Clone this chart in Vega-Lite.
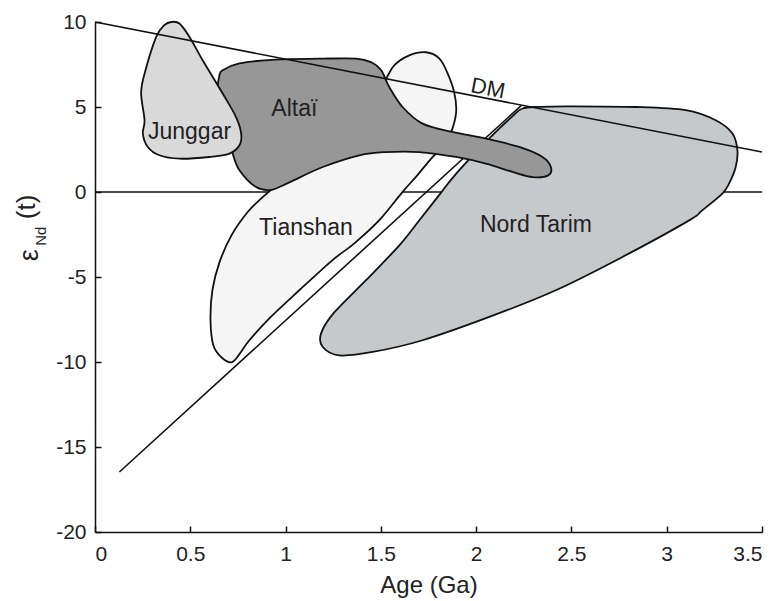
{
  "$schema": "https://vega.github.io/schema/vega-lite/v6.json",
  "width": 667,
  "height": 510,
  "autosize": {"type": "none"},
  "padding": {"left": 95, "top": 22, "right": 18, "bottom": 69},
  "background": "white",
  "config": {
    "view": {"stroke": null},
    "axis": {
      "domainColor": "#111", "domainWidth": 1.5,
      "tickColor": "#111", "tickWidth": 1.5, "tickSize": -6,
      "labelFont": "Liberation Sans", "labelFontSize": 21, "labelColor": "#222",
      "titleFont": "Liberation Sans", "titleFontSize": 24, "titleFontWeight": "normal", "titleColor": "#222",
      "grid": false
    }
  },
  "datasets": {
    "shapes": [
      {"s": "Junggar", "i": 0, "x": 0.40, "y": 10.0},
      {"s": "Junggar", "i": 1, "x": 0.443, "y": 9.91},
      {"s": "Junggar", "i": 2, "x": 0.496, "y": 9.12},
      {"s": "Junggar", "i": 3, "x": 0.565, "y": 7.75},
      {"s": "Junggar", "i": 4, "x": 0.670, "y": 5.79},
      {"s": "Junggar", "i": 5, "x": 0.740, "y": 4.41},
      {"s": "Junggar", "i": 6, "x": 0.767, "y": 3.44},
      {"s": "Junggar", "i": 7, "x": 0.758, "y": 2.75},
      {"s": "Junggar", "i": 8, "x": 0.705, "y": 2.26},
      {"s": "Junggar", "i": 9, "x": 0.600, "y": 2.06},
      {"s": "Junggar", "i": 10, "x": 0.443, "y": 1.96},
      {"s": "Junggar", "i": 11, "x": 0.338, "y": 2.16},
      {"s": "Junggar", "i": 12, "x": 0.277, "y": 2.65},
      {"s": "Junggar", "i": 13, "x": 0.251, "y": 3.44},
      {"s": "Junggar", "i": 14, "x": 0.260, "y": 4.22},
      {"s": "Junggar", "i": 15, "x": 0.242, "y": 5.79},
      {"s": "Junggar", "i": 16, "x": 0.260, "y": 6.96},
      {"s": "Junggar", "i": 17, "x": 0.321, "y": 9.12},
      {"s": "Junggar", "i": 18, "x": 0.364, "y": 9.81},

      {"s": "Altai", "i": 0, "x": 0.653, "y": 6.86},
      {"s": "Altai", "i": 1, "x": 0.670, "y": 7.16},
      {"s": "Altai", "i": 2, "x": 0.758, "y": 7.57},
      {"s": "Altai", "i": 3, "x": 0.950, "y": 7.79},
      {"s": "Altai", "i": 4, "x": 1.177, "y": 7.84},
      {"s": "Altai", "i": 5, "x": 1.370, "y": 7.85},
      {"s": "Altai", "i": 6, "x": 1.450, "y": 7.63},
      {"s": "Altai", "i": 7, "x": 1.502, "y": 7.16},
      {"s": "Altai", "i": 8, "x": 1.544, "y": 6.18},
      {"s": "Altai", "i": 9, "x": 1.614, "y": 5.0},
      {"s": "Altai", "i": 10, "x": 1.719, "y": 4.02},
      {"s": "Altai", "i": 11, "x": 1.876, "y": 3.53},
      {"s": "Altai", "i": 12, "x": 2.051, "y": 3.14},
      {"s": "Altai", "i": 13, "x": 2.226, "y": 2.65},
      {"s": "Altai", "i": 14, "x": 2.348, "y": 2.06},
      {"s": "Altai", "i": 15, "x": 2.392, "y": 1.47},
      {"s": "Altai", "i": 16, "x": 2.378, "y": 0.98},
      {"s": "Altai", "i": 17, "x": 2.296, "y": 0.88},
      {"s": "Altai", "i": 18, "x": 2.191, "y": 1.18},
      {"s": "Altai", "i": 19, "x": 2.051, "y": 1.67},
      {"s": "Altai", "i": 20, "x": 1.894, "y": 2.06},
      {"s": "Altai", "i": 21, "x": 1.702, "y": 2.35},
      {"s": "Altai", "i": 22, "x": 1.527, "y": 2.35},
      {"s": "Altai", "i": 23, "x": 1.387, "y": 2.16},
      {"s": "Altai", "i": 24, "x": 1.195, "y": 1.47},
      {"s": "Altai", "i": 25, "x": 1.020, "y": 0.57},
      {"s": "Altai", "i": 26, "x": 0.926, "y": 0.13},
      {"s": "Altai", "i": 27, "x": 0.845, "y": 0.29},
      {"s": "Altai", "i": 28, "x": 0.758, "y": 1.28},
      {"s": "Altai", "i": 29, "x": 0.723, "y": 2.26},
      {"s": "Altai", "i": 30, "x": 0.705, "y": 3.44},
      {"s": "Altai", "i": 31, "x": 0.670, "y": 4.81},
      {"s": "Altai", "i": 32, "x": 0.644, "y": 5.98},

      {"s": "Tianshan", "i": 0, "x": 0.716, "y": -10.02},
      {"s": "Tianshan", "i": 1, "x": 0.663, "y": -9.72},
      {"s": "Tianshan", "i": 2, "x": 0.621, "y": -9.02},
      {"s": "Tianshan", "i": 3, "x": 0.606, "y": -7.55},
      {"s": "Tianshan", "i": 4, "x": 0.616, "y": -5.78},
      {"s": "Tianshan", "i": 5, "x": 0.653, "y": -4.14},
      {"s": "Tianshan", "i": 6, "x": 0.716, "y": -2.55},
      {"s": "Tianshan", "i": 7, "x": 0.800, "y": -1.19},
      {"s": "Tianshan", "i": 8, "x": 0.873, "y": -0.37},
      {"s": "Tianshan", "i": 9, "x": 0.941, "y": 0.28},
      {"s": "Tianshan", "i": 10, "x": 1.072, "y": 1.39},
      {"s": "Tianshan", "i": 11, "x": 1.282, "y": 3.34},
      {"s": "Tianshan", "i": 12, "x": 1.439, "y": 5.1},
      {"s": "Tianshan", "i": 13, "x": 1.523, "y": 6.57},
      {"s": "Tianshan", "i": 14, "x": 1.570, "y": 7.45},
      {"s": "Tianshan", "i": 15, "x": 1.649, "y": 8.04},
      {"s": "Tianshan", "i": 16, "x": 1.738, "y": 8.22},
      {"s": "Tianshan", "i": 17, "x": 1.806, "y": 7.86},
      {"s": "Tianshan", "i": 18, "x": 1.848, "y": 7.04},
      {"s": "Tianshan", "i": 19, "x": 1.885, "y": 5.86},
      {"s": "Tianshan", "i": 20, "x": 1.895, "y": 4.69},
      {"s": "Tianshan", "i": 21, "x": 1.869, "y": 3.51},
      {"s": "Tianshan", "i": 22, "x": 1.833, "y": 2.75},
      {"s": "Tianshan", "i": 23, "x": 1.770, "y": 2.04},
      {"s": "Tianshan", "i": 24, "x": 1.691, "y": 0.98},
      {"s": "Tianshan", "i": 25, "x": 1.612, "y": -0.02},
      {"s": "Tianshan", "i": 26, "x": 1.492, "y": -1.66},
      {"s": "Tianshan", "i": 27, "x": 1.361, "y": -3.02},
      {"s": "Tianshan", "i": 28, "x": 1.245, "y": -4.02},
      {"s": "Tianshan", "i": 29, "x": 1.072, "y": -5.78},
      {"s": "Tianshan", "i": 30, "x": 0.915, "y": -7.43},
      {"s": "Tianshan", "i": 31, "x": 0.810, "y": -8.72},
      {"s": "Tianshan", "i": 32, "x": 0.758, "y": -9.54},

      {"s": "Nord Tarim", "i": 0, "x": 2.243, "y": 4.91},
      {"s": "Nord Tarim", "i": 1, "x": 2.331, "y": 5.01},
      {"s": "Nord Tarim", "i": 2, "x": 2.488, "y": 5.04},
      {"s": "Nord Tarim", "i": 3, "x": 2.838, "y": 5.0},
      {"s": "Nord Tarim", "i": 4, "x": 3.100, "y": 4.81},
      {"s": "Nord Tarim", "i": 5, "x": 3.257, "y": 4.22},
      {"s": "Nord Tarim", "i": 6, "x": 3.345, "y": 3.44},
      {"s": "Nord Tarim", "i": 7, "x": 3.371, "y": 2.45},
      {"s": "Nord Tarim", "i": 8, "x": 3.362, "y": 1.47},
      {"s": "Nord Tarim", "i": 9, "x": 3.327, "y": 0.49},
      {"s": "Nord Tarim", "i": 10, "x": 3.292, "y": -0.09},
      {"s": "Nord Tarim", "i": 11, "x": 3.186, "y": -1.08},
      {"s": "Nord Tarim", "i": 12, "x": 3.118, "y": -1.67},
      {"s": "Nord Tarim", "i": 13, "x": 2.768, "y": -3.82},
      {"s": "Nord Tarim", "i": 14, "x": 2.418, "y": -5.78},
      {"s": "Nord Tarim", "i": 15, "x": 2.069, "y": -7.35},
      {"s": "Nord Tarim", "i": 16, "x": 1.719, "y": -8.72},
      {"s": "Nord Tarim", "i": 17, "x": 1.457, "y": -9.41},
      {"s": "Nord Tarim", "i": 18, "x": 1.282, "y": -9.61},
      {"s": "Nord Tarim", "i": 19, "x": 1.195, "y": -9.12},
      {"s": "Nord Tarim", "i": 20, "x": 1.186, "y": -8.33},
      {"s": "Nord Tarim", "i": 21, "x": 1.251, "y": -7.14},
      {"s": "Nord Tarim", "i": 22, "x": 1.422, "y": -5.19},
      {"s": "Nord Tarim", "i": 23, "x": 1.597, "y": -3.14},
      {"s": "Nord Tarim", "i": 24, "x": 1.702, "y": -1.66},
      {"s": "Nord Tarim", "i": 25, "x": 1.817, "y": -0.02},
      {"s": "Nord Tarim", "i": 26, "x": 1.901, "y": 1.16},
      {"s": "Nord Tarim", "i": 27, "x": 2.069, "y": 3.16},
      {"s": "Nord Tarim", "i": 28, "x": 2.184, "y": 4.39}
    ],
    "lines": [
      {"id": "zero", "x": 0, "y": 0},
      {"id": "zero", "x": 3.5, "y": 0},
      {"id": "DM", "x": 0, "y": 10},
      {"id": "DM", "x": 3.5, "y": 2.35},
      {"id": "crust", "x": 0.128, "y": -16.47},
      {"id": "crust", "x": 2.236, "y": 5.08}
    ],
    "labels": [
      {"t": "Junggar", "x": 0.496, "y": 3.53},
      {"t": "Altaï", "x": 1.046, "y": 4.9},
      {"t": "Tianshan", "x": 1.107, "y": -2.14},
      {"t": "Nord Tarim", "x": 2.314, "y": -1.96}
    ]
  },
  "encoding": {
    "x": {
      "field": "x", "type": "quantitative",
      "scale": {"domain": [0, 3.5], "nice": false, "zero": false},
      "axis": {
        "values": [0, 0.5, 1, 1.5, 2, 2.5, 3, 3.5],
        "labelExpr": "format(datum.value, '~g')",
        "labelPadding": 17, "title": "Age (Ga)", "titlePadding": 9
      }
    },
    "y": {
      "field": "y", "type": "quantitative",
      "scale": {"domain": [-20, 10], "nice": false, "zero": false},
      "axis": {
        "values": [-20, -15, -10, -5, 0, 5, 10],
        "labelExpr": "datum.value < 0 ? '-' + format(-datum.value, '~g') : format(datum.value, '~g')",
        "labelPadding": 15, "title": null
      }
    }
  },
  "layer": [
    {
      "data": {"name": "lines"},
      "transform": [{"filter": "datum.id === 'zero'"}],
      "mark": {"type": "line", "stroke": "#111", "strokeWidth": 1.6},
      "encoding": {"detail": {"field": "id"}}
    },
    {
      "data": {"name": "shapes"},
      "transform": [{"filter": "datum.s === 'Tianshan'"}],
      "mark": {"type": "line", "interpolate": "cardinal-closed", "fill": "#f5f5f5", "stroke": "#111", "strokeWidth": 1.8},
      "encoding": {"order": {"field": "i", "type": "quantitative"}}
    },
    {
      "data": {"name": "lines"},
      "transform": [{"filter": "datum.id === 'crust'"}],
      "mark": {"type": "line", "stroke": "#111", "strokeWidth": 1.6},
      "encoding": {"detail": {"field": "id"}}
    },
    {
      "data": {"name": "shapes"},
      "transform": [{"filter": "datum.s === 'Nord Tarim'"}],
      "mark": {"type": "line", "interpolate": "cardinal-closed", "fill": "#c6c9cc", "stroke": "#111", "strokeWidth": 1.8},
      "encoding": {"order": {"field": "i", "type": "quantitative"}}
    },
    {
      "data": {"name": "shapes"},
      "transform": [{"filter": "datum.s === 'Altai'"}],
      "mark": {"type": "line", "interpolate": "cardinal-closed", "fill": "#979797", "stroke": "#111", "strokeWidth": 1.8},
      "encoding": {"order": {"field": "i", "type": "quantitative"}}
    },
    {
      "data": {"name": "shapes"},
      "transform": [{"filter": "datum.s === 'Junggar'"}],
      "mark": {"type": "line", "interpolate": "cardinal-closed", "fill": "#d9d9d9", "stroke": "#111", "strokeWidth": 1.8},
      "encoding": {"order": {"field": "i", "type": "quantitative"}}
    },
    {
      "data": {"name": "lines"},
      "transform": [{"filter": "datum.id === 'DM'"}],
      "mark": {"type": "line", "stroke": "#111", "strokeWidth": 1.6},
      "encoding": {"detail": {"field": "id"}}
    },
    {
      "data": {"name": "labels"},
      "mark": {"type": "text", "font": "Liberation Sans", "fontSize": 23, "color": "#222", "align": "center", "baseline": "middle"},
      "encoding": {"text": {"field": "t"}}
    },
    {
      "data": {"values": [{"t": "DM", "x": 2.062, "y": 6.1}]},
      "mark": {"type": "text", "font": "Liberation Sans", "fontSize": 22, "color": "#222", "align": "center", "baseline": "middle", "angle": 11},
      "encoding": {"text": {"field": "t"}}
    },
    {
      "data": {"values": [{"t": "ε", "x": -0.34, "y": -3.72}]},
      "mark": {"type": "text", "font": "Liberation Sans", "fontSize": 27, "color": "#222", "align": "center", "baseline": "middle", "angle": 270},
      "encoding": {"text": {"field": "t"}}
    },
    {
      "data": {"values": [{"t": "Nd", "x": -0.283, "y": -2.6}]},
      "mark": {"type": "text", "font": "Liberation Sans", "fontSize": 15, "color": "#222", "align": "center", "baseline": "middle", "angle": 270},
      "encoding": {"text": {"field": "t"}}
    },
    {
      "data": {"values": [{"t": "(t)", "x": -0.357, "y": -0.88}]},
      "mark": {"type": "text", "font": "Liberation Sans", "fontSize": 26, "color": "#222", "align": "center", "baseline": "middle", "angle": 270},
      "encoding": {"text": {"field": "t"}}
    }
  ]
}
